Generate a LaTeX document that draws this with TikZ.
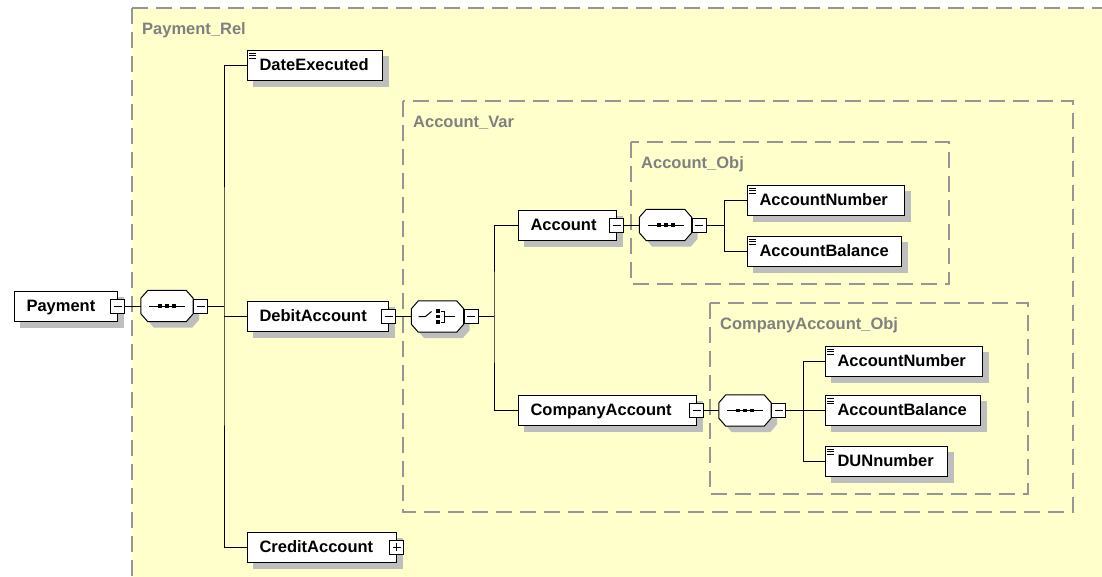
\documentclass[tikz,border=0pt]{standalone}
\usepackage{fontspec}
\setmainfont{Liberation Sans}
\definecolor{relfill}{HTML}{FFFFCC}
\definecolor{grpline}{HTML}{969696}
\definecolor{grptext}{HTML}{808080}
\definecolor{boxshadow}{HTML}{BEBEBE}

\pgfdeclarelayer{grouplayer}
\pgfdeclarelayer{shadowlayer}
\pgfsetlayers{grouplayer,shadowlayer,main}

% octagonal compositor outline around a (rectangular, invisible) node;
% #3 = shift to the right, #4 = shift downwards
\newcommand\octpath[4]{%
  \path[#2] ([shift={(7pt+#3,-#4)}]#1.north west) -- ([shift={(-7pt+#3,-#4)}]#1.north east)
    -- ([shift={(#3,-8pt-#4)}]#1.north east) -- ([shift={(#3,8pt-#4)}]#1.south east)
    -- ([shift={(-7pt+#3,-#4)}]#1.south east) -- ([shift={(7pt+#3,-#4)}]#1.south west)
    -- ([shift={(#3,8pt-#4)}]#1.south west) -- ([shift={(#3,-8pt-#4)}]#1.north west) -- cycle;}
\newcommand\compbody[1]{%
  \begin{pgfonlayer}{shadowlayer}
    \octpath{#1}{fill=boxshadow}{6pt}{6pt}
  \end{pgfonlayer}
  \octpath{#1}{draw, line width=1pt, fill=white}{0pt}{0pt}}
% shadow behind an element box
\newcommand\boxshadowof[1]{%
  \begin{pgfonlayer}{shadowlayer}
    \fill[boxshadow] ([shift={(6pt,-6pt)}]#1.north west) rectangle ([shift={(6pt,-6pt)}]#1.south east);
  \end{pgfonlayer}}
% sequence symbol
\newcommand\seqmark[1]{%
  \draw[line width=1pt] ([xshift=-18pt]#1.center) -- ([xshift=18pt]#1.center);
  \foreach \dx in {-7,0,7}
    \fill ([xshift=\dx pt]#1.center) +(-2pt,-1.75pt) rectangle +(2pt,1.75pt);}
% choice symbol
\newcommand\choicemark[1]{%
  \draw[line width=1pt] ([xshift=-19pt]#1.center) -- ([xshift=-12pt]#1.center)
    -- ([shift={(-6pt,5pt)}]#1.center);
  \foreach \dy in {-5.5,0,5.5}
    \fill ([yshift=\dy pt]#1.center) +(-2pt,-1.75pt) rectangle +(2pt,1.75pt);
  \draw[line width=1pt] ([shift={(3pt,5.5pt)}]#1.center) -| ([shift={(7pt,-5.5pt)}]#1.center)
    -- ([shift={(3pt,-5.5pt)}]#1.center);
  \draw[line width=1pt] ([xshift=7pt]#1.center) -- ([xshift=17pt]#1.center);}
% simple-content icon in the upper left corner of an element
\newcommand\leafmark[1]{%
  \foreach \dy in {3.5,6,8.5}
    \draw[line width=0.9pt] ([shift={(2.5pt,-\dy pt)}]#1.north west) -- ++(6.5pt,0pt);}

\begin{document}
\begin{tikzpicture}[x=1pt,y=-1pt,
  every node/.style={font=\fontsize{16.5}{19}\selectfont\bfseries},
  elem/.style={draw, line width=1pt, fill=white, minimum height=30pt,
    inner xsep=12.5pt, inner ysep=0pt, text height=11pt, text depth=1pt, align=left},
  comp/.style={minimum width=52pt, minimum height=31pt, inner sep=0pt},
  togglebox/.style={draw, line width=1pt, fill=white, minimum size=14pt, inner sep=0pt},
  minusbox/.style={togglebox, path picture={
    \draw[line width=1pt] ([xshift=3pt]path picture bounding box.west) -- ([xshift=-3pt]path picture bounding box.east);}},
  plusbox/.style={togglebox, path picture={
    \draw[line width=1pt] ([xshift=3pt]path picture bounding box.west) -- ([xshift=-3pt]path picture bounding box.east);
    \draw[line width=1pt] ([yshift=-3pt]path picture bounding box.north) -- ([yshift=3pt]path picture bounding box.south);}},
  grp/.style={draw=grpline, line width=1.6pt, dash pattern=on 16pt off 8pt},
  grplabel/.style={anchor=base west, text=grptext, inner sep=0pt},
  wire/.style={line width=1pt}
]
\useasboundingbox (0,0) rectangle (1102,576);

% model groups
\begin{pgfonlayer}{grouplayer}
  \fill[white] (0,0) rectangle (1102,576);
  \draw[grp, fill=relfill] (132,8) rectangle (1110,586);
  \draw[grp] (403,101) rectangle (1073,512);
  \draw[grp] (631,142) rectangle (949,284);
  \draw[grp] (710,303) rectangle (1028,494);
\end{pgfonlayer}
\node[grplabel] (relname) at (142,34) {Payment\_Rel};
\node[grplabel] (varname) at (413,127) {Account\_Var};
\node[grplabel] (objname) at (641,168) {Account\_Obj};
\node[grplabel] (cobjname) at (720,329) {CompanyAccount\_Obj};

% root element and its sequence
\node[elem, text width=78pt] (payment) at (65.5,306) {Payment};
\node[minusbox] (payment-t) at (payment.east) {};
\node[comp] (seq1) at (167,306) {};
\compbody{seq1}\seqmark{seq1}
\node[minusbox] (seq1-t) at ([xshift=7.5pt]seq1.east) {};

\node[elem, text width=110pt] (date) at (314.5,65) {DateExecuted};
\leafmark{date}
\node[elem, text width=116pt] (debit) at (317.5,316.5) {DebitAccount};
\node[minusbox] (debit-t) at (debit.east) {};
\node[elem, text width=124pt] (credit) at (321.5,547) {CreditAccount};
\node[plusbox] (credit-t) at (credit.east) {};

% choice between the two account kinds
\node[comp] (choice) at (437.5,316.5) {};
\compbody{choice}\choicemark{choice}
\node[minusbox] (choice-t) at ([xshift=7.5pt]choice.east) {};

\node[elem, text width=73pt] (account) at (567,225) {Account};
\node[minusbox] (account-t) at (account.east) {};
\node[elem, text width=153pt] (company) at (607,410.5) {CompanyAccount};
\node[minusbox] (company-t) at (company.east) {};

% Account content
\node[comp] (seq2) at (665.5,225) {};
\compbody{seq2}\seqmark{seq2}
\node[minusbox] (seq2-t) at ([xshift=7.5pt]seq2.east) {};
\node[elem, text width=132pt] (an1) at (825.5,200) {AccountNumber};
\leafmark{an1}
\node[elem, text width=129pt] (ab1) at (824,251) {AccountBalance};
\leafmark{ab1}

% CompanyAccount content
\node[comp] (seq3) at (745,410.5) {};
\compbody{seq3}\seqmark{seq3}
\node[minusbox] (seq3-t) at ([xshift=7.5pt]seq3.east) {};
\node[elem, text width=132pt] (an2) at (903.5,361) {AccountNumber};
\leafmark{an2}
\node[elem, text width=130pt] (ab2) at (902.5,410.5) {AccountBalance};
\leafmark{ab2}
\node[elem, text width=97pt] (dun) at (886,461) {DUNnumber};
\leafmark{dun}

% shadows of the element boxes
\foreach \n in {payment,date,debit,credit,account,company,an1,ab1,an2,ab2,dun}
  {\boxshadowof{\n}}

% connectors
\coordinate (j1) at (224,306);
\coordinate (j2) at (494,316.5);
\coordinate (j3) at (724,225);
\coordinate (j4) at (803,410.5);

\draw[wire] (payment-t.east) -- (seq1.west);
\draw[wire] (seq1-t.east) -- (j1);
\draw[wire] (date.west) -| (j1) |- (credit.west);
\draw[wire] (debit.west -| j1) -- (debit.west);

\draw[wire] (debit-t.east) -- (choice.west);
\draw[wire] (choice-t.east) -- (j2);
\draw[wire] (account.west) -| (j2) |- (company.west);

\draw[wire] (account-t.east) -- (seq2.west);
\draw[wire] (seq2-t.east) -- (j3);
\draw[wire] (an1.west) -| (j3) |- (ab1.west);

\draw[wire] (company-t.east) -- (seq3.west);
\draw[wire] (seq3-t.east) -- (j4);
\draw[wire] (an2.west) -| (j4) |- (dun.west);
\draw[wire] (j4) -- (ab2.west);
\end{tikzpicture}
\end{document}
